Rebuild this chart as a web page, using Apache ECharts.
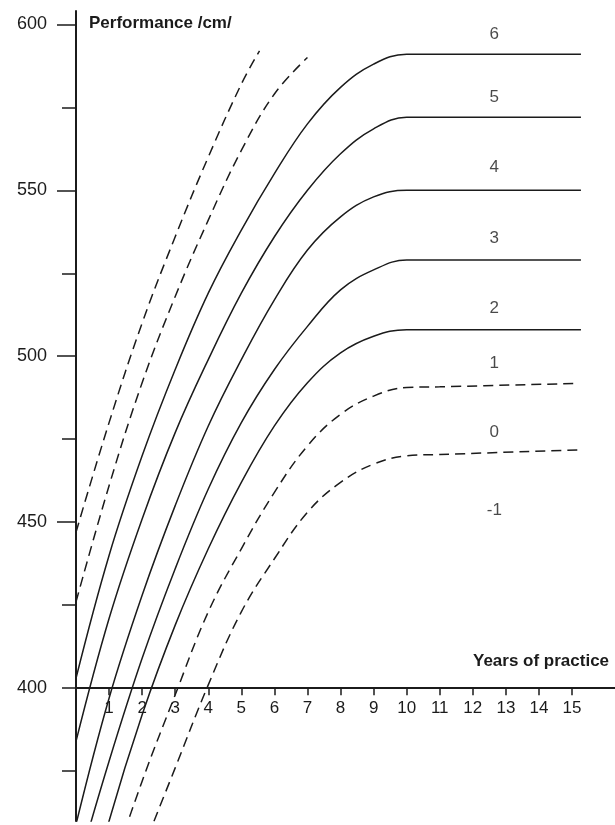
<!DOCTYPE html>
<html><head><meta charset="utf-8">
<script src="https://cdn.jsdelivr.net/npm/echarts@6/dist/echarts.min.js"></script>
<style>html,body{margin:0;padding:0;background:#fff}#c{width:615px;height:825px}</style>
</head><body><div id="c"></div>
<script>
// ---- data (years of practice, performance cm) ----
const dashedTop1 = [[0,447],[1,480],[2,510],[3,536],[4,560],[5,582],[5.55,592]];
const dashedTop2 = [[0,426],[1,461],[2,492],[3,518],[4,541],[5,562],[6,579],[7,590]];
const curve6 = [[0,403],[1,440],[2,470],[3,496],[4,519],[5,538],[6,555],[7,570],[8,581],[9,588],[10,591],[11,591],[15.27,591]];
const curve5 = [[0,384],[1,421],[2,451],[3,477],[4,499],[5,519],[6,536],[7,550],[8,561],[9,568.5],[10,572],[11,572],[15.27,572]];
const curve4 = [[0,359],[1,397],[2,428],[3,455],[4,479],[5,499],[6,517],[7,532],[8,542],[9,548],[10,550],[11,550],[15.27,550]];
const curve3 = [[0,344],[1,378],[2,409],[3,436],[4,460],[5,480],[6,496],[7,509],[8,520],[9,526],[10,529],[11,529],[15.27,529]];
const curve2 = [[0,322],[1,360],[2,392],[3,419],[4,442],[5,462],[6,479],[7,492],[8,501],[9,506],[10,508],[11,508],[15.27,508]];
const dashed1 = [[1,343],[2,372],[3,398],[4,423],[5,442],[6,459],[7,473],[8,482.5],[9,488],[10,490.6],[11,490.8],[15.15,491.8]];
const dashed0 = [[2,351],[3,376],[4,401],[5,423],[6,439],[7,453],[8,462],[9,467.5],[10,470],[11,470.4],[15.2,471.8]];

const zoneLabels = ['6','5','4','3','2','1','0','-1'];
const zoneLabelY = [597, 578, 557, 535.5, 514.5, 498, 477, 453.5];
const zoneLabelX = 12.65;

const yMajorTicks = [450, 500, 550, 600];
const yMinorTicks = [375, 400, 425, 475, 525, 575];
const yTickLabels = [400, 450, 500, 550, 600];
const xTickLabels = [1,2,3,4,5,6,7,8,9,10,11,12,13,14,15];

const X_MIN = 0, X_MAX = 16.3, Y_MIN = 360, Y_MAX = 604;

// ---- chart ----
const ink = '#1b1b1b';
const font = "'Liberation Sans', Arial, Helvetica, sans-serif";
const chart = echarts.init(document.getElementById('c'), null, {renderer: 'canvas'});

const solidCurves = [curve6, curve5, curve4, curve3, curve2];
const dashedCurves = [dashedTop1, dashedTop2, dashed1, dashed0];

const series = [];
solidCurves.forEach(d => series.push({
  type: 'line', data: d, xAxisIndex: 0, yAxisIndex: 0, symbol: 'none',
  smooth: 0.4, silent: true,
  lineStyle: {color: ink, width: 1.5}
}));
dashedCurves.forEach(d => series.push({
  type: 'line', data: d, xAxisIndex: 0, yAxisIndex: 0, symbol: 'none',
  smooth: 0.4, silent: true,
  lineStyle: {color: ink, width: 1.5, type: [10, 6]}
}));
series.push({
  type: 'scatter', xAxisIndex: 0, yAxisIndex: 0, symbolSize: 0, silent: true,
  data: zoneLabelY.map((y, i) => [zoneLabelX, y, zoneLabels[i]]),
  label: {show: true, position: 'inside', formatter: p => p.data[2],
          color: ink, fontSize: 17, fontFamily: font}
});

const gridBase = {left: 76, right: 0, top: 11, height: 810, outerBoundsMode: 'none', containLabel: false};
const hiddenX = gi => ({type: 'value', gridIndex: gi, min: X_MIN, max: X_MAX, show: false, splitLine: {show: false}});

chart.setOption({
  animation: false,
  backgroundColor: '#fff',
  grid: [
    gridBase,
    {left: 76, right: 0, top: 11, height: 677.2, outerBoundsMode: 'none', containLabel: false},
    gridBase
  ],
  xAxis: [
    hiddenX(0),
    {type: 'value', gridIndex: 1, min: X_MIN, max: X_MAX, position: 'bottom',
     splitLine: {show: false},
     axisLine: {show: true, onZero: false, lineStyle: {color: ink, width: 2}},
     axisTick: {show: true, customValues: xTickLabels, length: 7, lineStyle: {color: ink, width: 1.5}},
     axisLabel: {show: true, customValues: xTickLabels, margin: 12, color: ink, fontSize: 17, fontFamily: font}
    },
    hiddenX(2)
  ],
  yAxis: [
    {type: 'value', gridIndex: 0, min: Y_MIN, max: Y_MAX, position: 'left',
     splitLine: {show: false},
     axisLine: {show: true, onZero: false, lineStyle: {color: ink, width: 2}},
     axisTick: {show: true, customValues: yMajorTicks, length: 19, lineStyle: {color: ink, width: 1.5}},
     axisLabel: {show: true, customValues: yTickLabels, margin: 29, color: ink, fontSize: 18, fontFamily: font}
    },
    {type: 'value', gridIndex: 1, min: 400, max: Y_MAX, show: false, splitLine: {show: false}},
    {type: 'value', gridIndex: 2, min: Y_MIN, max: Y_MAX, position: 'left',
     splitLine: {show: false},
     axisLine: {show: false},
     axisTick: {show: true, customValues: yMinorTicks, length: 14, lineStyle: {color: ink, width: 1.5}},
     axisLabel: {show: false}
    }
  ],
  graphic: [
    {type: 'text', left: 89, top: 15, silent: true,
     style: {text: 'Performance /cm/', fill: ink, font: 'bold 17px ' + font}},
    {type: 'text', left: 473, top: 653, silent: true,
     style: {text: 'Years of practice', fill: ink, font: 'bold 17px ' + font}}
  ],
  series: series
});
</script></body></html>
